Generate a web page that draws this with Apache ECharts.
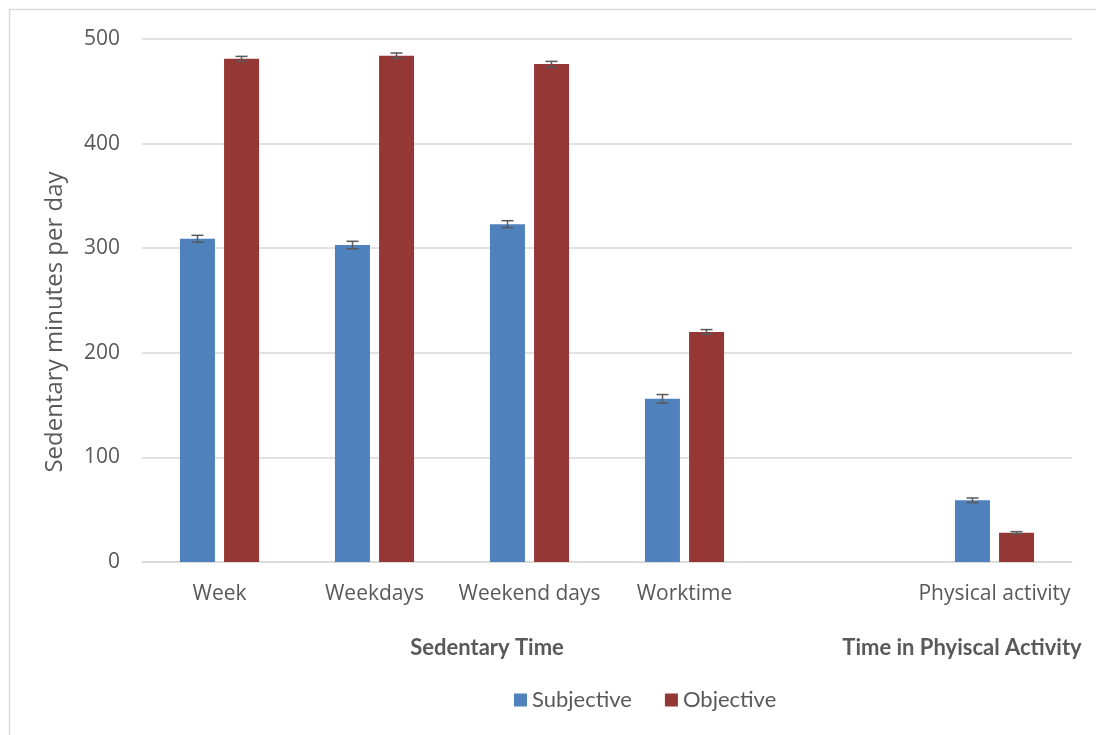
<!DOCTYPE html>
<html>
<head>
<meta charset="utf-8">
<script src="https://cdn.jsdelivr.net/npm/echarts@6/dist/echarts.min.js"></script>
<style>html,body{margin:0;padding:0;background:#fff}#c{width:1096px;height:735px}</style>
</head>
<body>
<div id="c"></div>
<script>
const categories = ['Week', 'Weekdays', 'Weekend days', 'Worktime', '', 'Physical activity'];
const subjective = [309, 303, 323, 156, null, 59];
const objective = [481, 484, 476, 220, null, 28];
const subjectiveErr = [3.3, 3.6, 3.3, 4.1, null, 2.2];
const objectiveErr = [2.4, 2.6, 2.6, 2.2, null, 1.0];
const yTicks = [0, 100, 200, 300, 400, 500];
const groupLabels = ['Sedentary Time', 'Time in Phyiscal Activity'];

const chart = echarts.init(document.getElementById('c'), null, {renderer: 'canvas'});
const textColor = '#595959';
const BAR_W = 35, OFFSET = 22;

function errSeries(vals, errs, dx) {
  const data = [];
  vals.forEach((v, i) => { if (v != null) data.push([i, v, errs[i]]); });
  return {
    type: 'custom',
    silent: true,
    z: 10,
    data: data,
    renderItem: function (params, api) {
      const i = api.value(0), v = api.value(1), e = api.value(2);
      const top = api.coord([i, v + e]);
      const bot = api.coord([i, v - e]);
      const x = top[0] + dx;
      const cap = 6;
      const st = {stroke: '#595959', lineWidth: 1.5};
      return {type: 'group', children: [
        {type: 'line', shape: {x1: x, y1: top[1], x2: x, y2: bot[1]}, style: st},
        {type: 'line', shape: {x1: x - cap, y1: top[1], x2: x + cap, y2: top[1]}, style: st},
        {type: 'line', shape: {x1: x - cap, y1: bot[1], x2: x + cap, y2: bot[1]}, style: st}
      ]};
    }
  };
}

chart.setOption({
  animation: false,
  backgroundColor: '#fff',
  grid: {left: 142, right: 24, top: 39, bottom: 173},
  legend: {
    data: ['Subjective', 'Objective'],
    left: 509, top: 684,
    itemWidth: 13, itemHeight: 13, itemGap: 33,
    icon: 'rect',
    textStyle: {fontFamily: 'Lato', fontSize: 22, color: textColor, padding: [0, 0, 0, 0]}
  },
  xAxis: {
    type: 'category',
    data: categories,
    axisLine: {show: true, lineStyle: {color: '#D9D9D9', width: 1.5}},
    axisTick: {show: false},
    axisLabel: {fontFamily: 'Open Sans', fontSize: 21, color: textColor, margin: 22, interval: 0}
  },
  yAxis: {
    type: 'value',
    min: yTicks[0], max: yTicks[yTicks.length - 1], interval: 100,
    axisLine: {show: false},
    axisTick: {show: false},
    splitLine: {lineStyle: {color: '#D9D9D9', width: 1.5}},
    axisLabel: {fontFamily: 'Open Sans', fontSize: 21, color: textColor, margin: 22}
  },
  graphic: [
    {type: 'rect', shape: {x: 9.5, y: 9.5, width: 1200, height: 900}, style: {fill: 'none', stroke: '#D9D9D9', lineWidth: 1.5}, silent: true},
    {type: 'text', x: 55, y: 322, rotation: Math.PI / 2,
      style: {text: 'Sedentary minutes per day', fontFamily: 'Open Sans', fontSize: 24, fill: textColor, align: 'center', verticalAlign: 'middle'}},
    {type: 'text', x: 487, y: 648,
      style: {text: groupLabels[0], fontFamily: 'Lato', fontWeight: 'bold', fontSize: 22, fill: textColor, align: 'center', verticalAlign: 'middle'}},
    {type: 'text', x: 962, y: 648,
      style: {text: groupLabels[1], fontFamily: 'Lato', fontWeight: 'bold', fontSize: 22, fill: textColor, align: 'center', verticalAlign: 'middle'}}
  ],
  series: [
    {name: 'Subjective', type: 'bar', data: subjective, barWidth: BAR_W, barGap: '26%',
      itemStyle: {color: '#4F81BD'}},
    {name: 'Objective', type: 'bar', data: objective, barWidth: BAR_W, barGap: '26%',
      itemStyle: {color: '#953735'}},
    errSeries(subjective, subjectiveErr, -OFFSET),
    errSeries(objective, objectiveErr, OFFSET)
  ]
});
</script>
</body>
</html>
